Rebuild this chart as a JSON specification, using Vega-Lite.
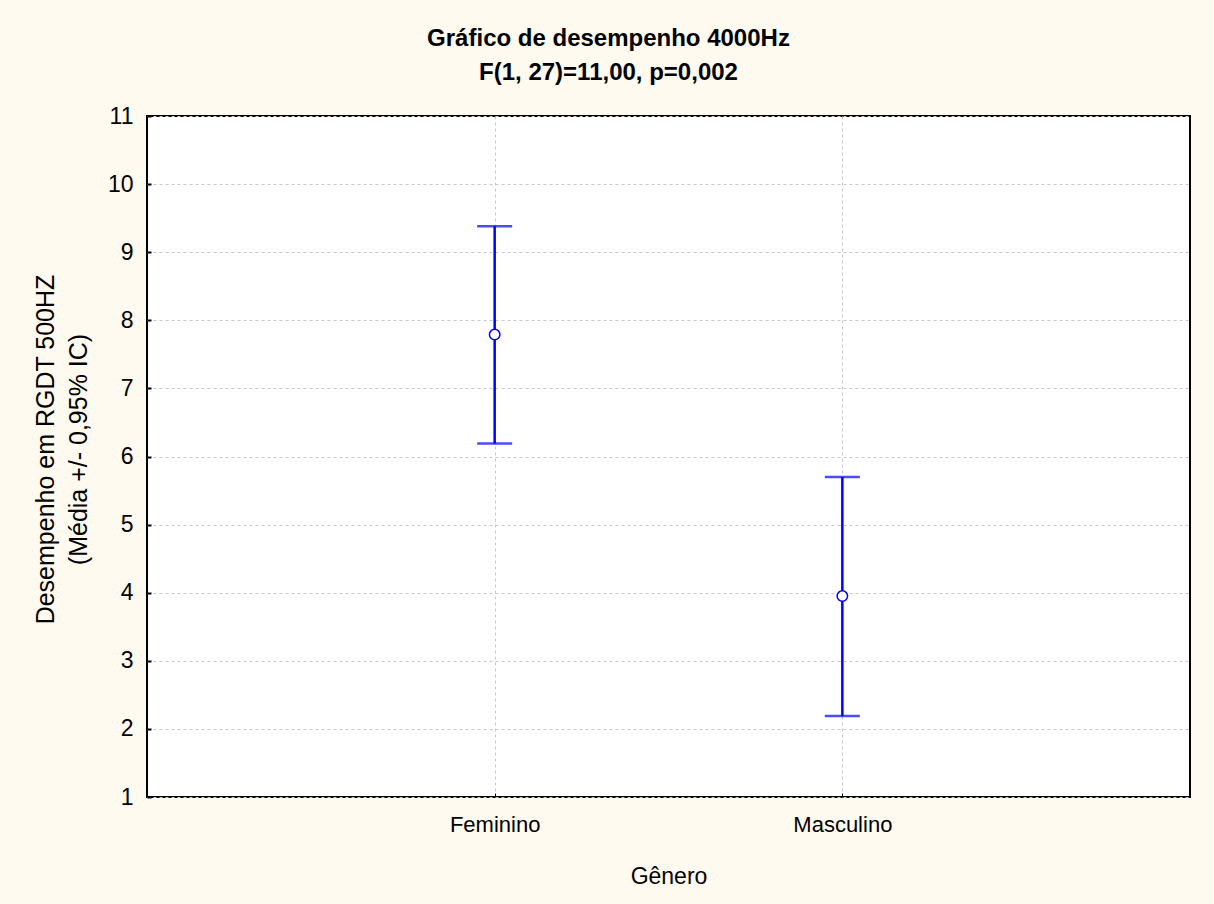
{
  "$schema": "https://vega.github.io/schema/vega-lite/v6.json",
  "width": 1043,
  "height": 681,
  "autosize": "none",
  "padding": {"left": 147, "top": 116, "right": 24, "bottom": 107},
  "background": "#fefaf0",
  "config": {
    "view": {"stroke": "black", "strokeWidth": 2, "fill": "white"},
    "font": "Liberation Sans"
  },
  "title": {
    "text": "Gráfico de desempenho 4000Hz",
    "subtitle": "F(1, 27)=11,00, p=0,002",
    "anchor": "middle",
    "dx": -60,
    "offset": 20,
    "fontSize": 24,
    "fontWeight": "bold",
    "color": "black",
    "subtitleFontSize": 24,
    "subtitleFontWeight": "bold",
    "subtitleColor": "black",
    "subtitlePadding": 10
  },
  "data": {
    "values": [
      {"genero": "Feminino", "media": 7.79, "inf": 6.19, "sup": 9.38},
      {"genero": "Masculino", "media": 3.95, "inf": 2.19, "sup": 5.70}
    ]
  },
  "encoding": {
    "x": {
      "field": "genero",
      "type": "nominal",
      "sort": null,
      "scale": {"type": "point", "padding": 1},
      "axis": {
        "title": "Gênero",
        "labelAngle": 0,
        "labelFontSize": 22,
        "labelColor": "black",
        "labelPadding": 21,
        "titleFontSize": 23,
        "titleFontWeight": "normal",
        "titleColor": "black",
        "titlePadding": 30,
        "domain": false,
        "ticks": true,
        "tickSize": -4,
        "tickColor": "black",
        "tickWidth": 1,
        "grid": true,
        "gridColor": "#c8c8c8",
        "gridDash": [3, 3],
        "gridWidth": 1
      }
    }
  },
  "layer": [
    {
      "mark": {"type": "rule", "color": "#0000ff", "strokeWidth": 2.5},
      "encoding": {
        "y": {
          "field": "inf",
          "type": "quantitative",
          "scale": {"domain": [1, 11], "nice": false, "zero": false},
          "axis": {
            "title": ["Desempenho em RGDT 500HZ", "(Média +/- 0,95% IC)"],
            "values": [1, 2, 3, 4, 5, 6, 7, 8, 9, 10, 11],
            "format": "d",
            "labelFontSize": 23,
            "labelColor": "black",
            "labelPadding": 18,
            "titleFontSize": 25,
            "titleFontWeight": "normal",
            "titleColor": "black",
            "titlePadding": 16,
            "titleLineHeight": 33,
            "titleY": 333,
            "domain": false,
            "ticks": true,
            "tickSize": -4,
            "tickColor": "black",
            "tickWidth": 2,
            "grid": true,
            "gridColor": "#c8c8c8",
            "gridDash": [3, 3],
            "gridWidth": 1
          }
        },
        "y2": {"field": "sup"}
      }
    },
    {
      "mark": {"type": "tick", "color": "#0000ff", "size": 35, "thickness": 2.5},
      "encoding": {"y": {"field": "inf", "type": "quantitative"}}
    },
    {
      "mark": {"type": "tick", "color": "#0000ff", "size": 35, "thickness": 2.5},
      "encoding": {"y": {"field": "sup", "type": "quantitative"}}
    },
    {
      "mark": {"type": "point", "shape": "circle", "filled": true, "fill": "white", "stroke": "#0000ff", "strokeWidth": 1.5, "size": 110, "opacity": 1},
      "encoding": {"y": {"field": "media", "type": "quantitative"}}
    }
  ]
}
